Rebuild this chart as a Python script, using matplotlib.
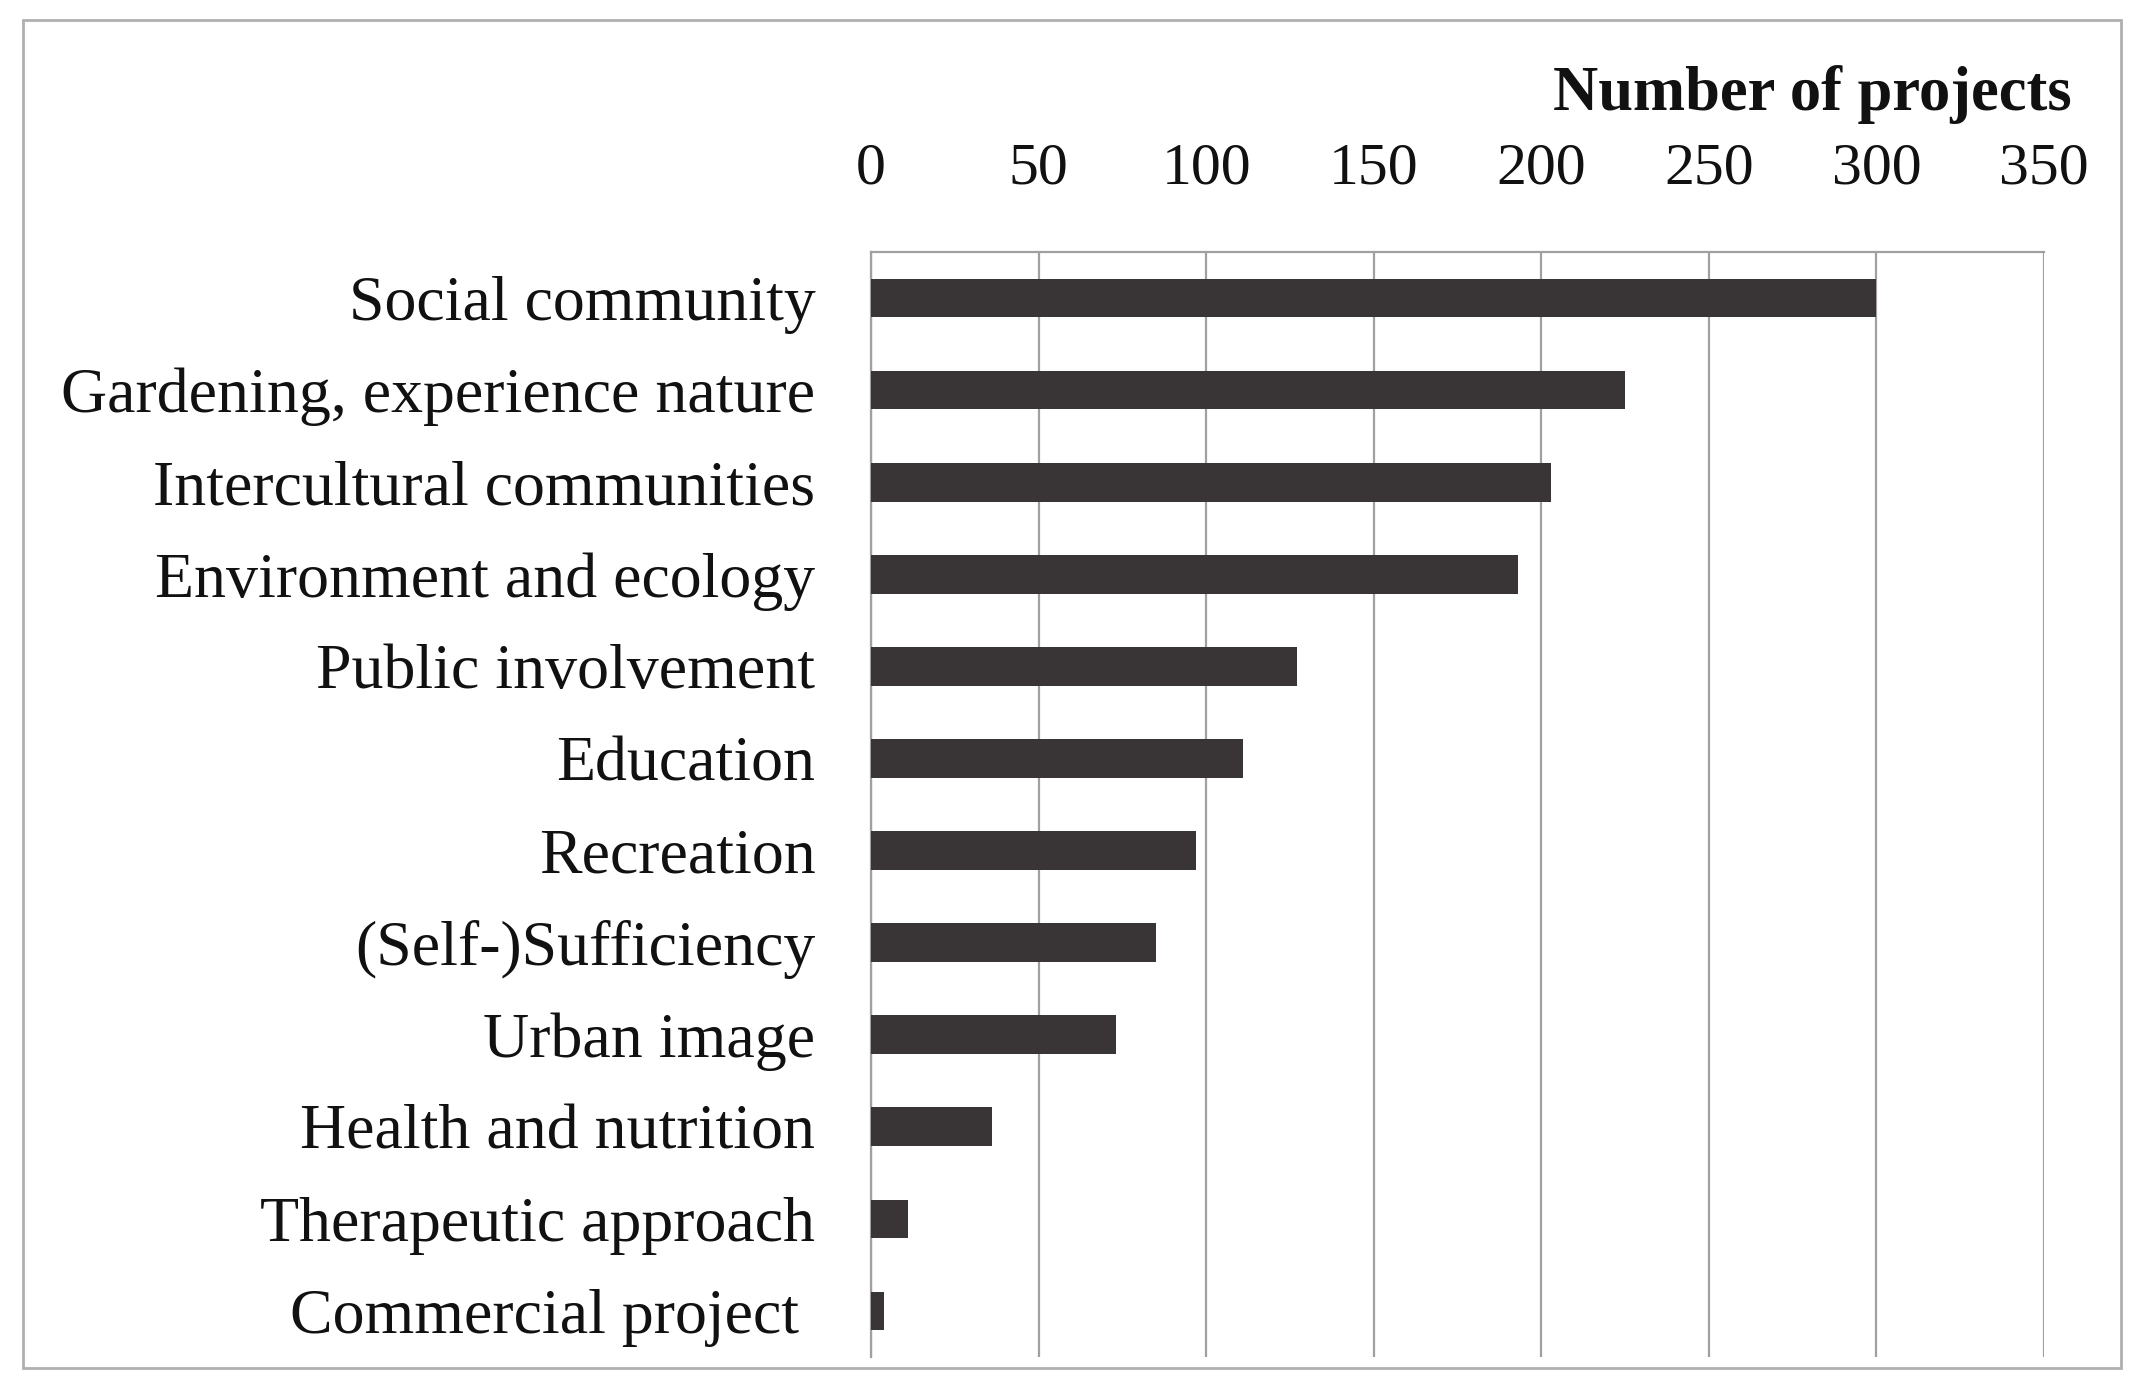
import matplotlib
matplotlib.use("Agg")
import matplotlib.pyplot as plt
from matplotlib.patches import Rectangle

categories = ["Social community", "Gardening, experience nature", "Intercultural communities",
              "Environment and ecology", "Public involvement", "Education", "Recreation",
              "(Self-)Sufficiency", "Urban image", "Health and nutrition",
              "Therapeutic approach", "Commercial project "]
values = [300, 225, 203, 193, 127, 111, 97, 85, 73, 36, 11, 4]
xticks = [0, 50, 100, 150, 200, 250, 300, 350]
xlabel = "Number of projects"

W, H = 2141, 1391
fig = plt.figure(figsize=(W / 100, H / 100), dpi=100)
plt.rcParams['font.family'] = ['Liberation Serif', 'DejaVu Serif']

# outer frame
fig.patches.append(Rectangle((23 / W, 1 - 1368 / H), (2121 - 23) / W, (1368 - 20) / H,
                             transform=fig.transFigure, fill=False, edgecolor='#b0b0b0',
                             linewidth=2.0))

left, right, top, bottom = 871, 2044, 252, 1357
ax = fig.add_axes([left / W, 1 - bottom / H, (right - left) / W, (bottom - top) / H])

y = list(range(len(categories)))
ax.barh(y, values, height=0.42, color='#393536', zorder=3)
ax.set_ylim(len(categories) - 0.5, -0.5)
ax.set_xlim(0, 350)
ax.set_xticks(xticks)
ax.set_xticklabels([str(t) for t in xticks])
ax.xaxis.tick_top()
ax.xaxis.set_label_position('top')
ax.set_yticks(y)
ax.set_yticklabels(categories)
ax.tick_params(axis='y', length=0, labelsize=46, colors='#111111', pad=40)
ax.tick_params(axis='x', length=0, labelsize=43, colors='#111111', pad=40)
ax.grid(axis='x', color='#a0a0a0', linewidth=1.6, zorder=0)
for s in ['bottom', 'right']:
    ax.spines[s].set_visible(False)
for s in ['top', 'left']:
    ax.spines[s].set_color('#a0a0a0')
    ax.spines[s].set_linewidth(1.6)

fig.text(2072 / W, 1 - 95 / H, xlabel, ha='right', va='center', fontsize=45,
         fontweight='bold', color='#111111')

fig.savefig("out.png", dpi=100)
